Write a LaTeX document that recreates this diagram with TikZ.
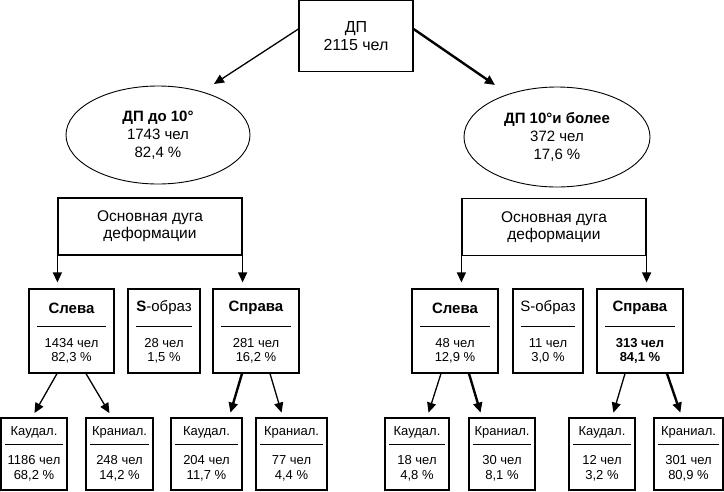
\documentclass[tikz,border=0pt]{standalone}
\usepackage{fontspec}
\setmainfont{Liberation Sans}
\usetikzlibrary{arrows.meta,shapes.geometric,calc}
\newcommand\fsz[2]{\fontsize{#1}{#2}\selectfont}
\tikzset{
  box/.style={draw,line width=1.2pt,inner sep=0pt},
  ell/.style={draw,ellipse,line width=0.9pt,inner sep=0pt,align=center,font=\fsz{15}{18}},
  txt/.style={inner sep=0pt,align=center},
  rule/.style={line width=1.2pt},
  arr/.style={-{Triangle[length=10pt,width=9pt]},line width=1.3pt},
  tarr/.style={arr,line width=2.4pt},
}
\newcommand\boxthree[5]{%
  \node[box,minimum width=#3,minimum height=84] (#1) at (#2,331) {};
  \node[txt,font=\fsz{15}{16}] (#1t) at (#2,308) {#4};
  \draw[rule] ($(#1.north west)+(9,38)$) -- ($(#1.north east)+(-9,38)$);
  \node[txt,font=\fsz{13}{14.5}] (#1n) at (#2,351) {#5};
}
\newcommand\boxfour[5]{%
  \node[box,minimum width=#3,minimum height=72] (#1) at (#2,454) {};
  \node[txt,font=\fsz{13}{15}] (#1t) at (#2,432) {#4};
  \draw[rule] ($(#1.north west)+(5,27)$) -- ($(#1.north east)+(-5,27)$);
  \node[txt,font=\fsz{13}{15}] (#1n) at (#2,468.5) {#5};
}
\begin{document}
\begin{tikzpicture}[x=1pt,y=-1pt]
\useasboundingbox (0,0) rectangle (724,491);

% top
\node[box,minimum width=114,minimum height=71,align=center,font=\fsz{16}{18}] (top) at (356,36) {ДП\\2115 чел};

% ellipses
\node[ell,minimum width=184,minimum height=98] (eL) at (158,135) {\textbf{ДП до 10°}\\1743 чел\\82,4 \%};
\node[ell,minimum width=186,minimum height=100] (eR) at (557,137) {\textbf{ДП 10°и более}\\372 чел\\17,6 \%};

\coordinate (tipL) at (214,84);
\coordinate (tipR) at (495,85);
\draw[arr] ([yshift=7pt]top.west) -- (tipL);
\draw[tarr] ([yshift=7pt]top.east) -- (tipR);

% main arc boxes
\node[box,minimum width=184,minimum height=57,align=center,font=\fsz{15.5}{17}] (oL) at (150,226.5) {Основная дуга\\деформации};
\node[box,minimum width=184,minimum height=57,align=center,font=\fsz{15.5}{17}] (oR) at (554,227) {Основная дуга\\деформации};

% level 3
\boxthree{sL}{71.5}{85}{\textbf{Слева}}{1434 чел\\82,3 \%}
\boxthree{sS}{164}{72}{\textbf{S}-образ}{28 чел\\1,5 \%}
\boxthree{sR}{256}{86}{\textbf{Справа}}{281 чел\\16,2 \%}
\boxthree{rL}{455}{86}{\textbf{Слева}}{48 чел\\12,9 \%}
\boxthree{rS}{548}{70}{S-образ}{11 чел\\3,0 \%}
\boxthree{rR}{640}{86}{\textbf{Справа}}{\textbf{313 чел}\\\textbf{84,1 \%}}

\draw[arr,shorten >=6pt] (oL.south west) -- (oL.south west |- sL.north);
\draw[arr,shorten >=6pt] (oL.south east) -- (oL.south east |- sR.north);
\draw[arr,shorten >=6pt] (oR.south west) -- (oR.south west |- rL.north);
\draw[arr,shorten >=6pt] (oR.south east) -- (oR.south east |- rR.north);

% level 4
\boxfour{a}{34}{66}{Каудал.}{1186 чел\\68,2 \%}
\boxfour{b}{119.5}{67}{Краниал.}{248 чел\\14,2 \%}
\boxfour{c}{206.5}{71}{Каудал.}{204 чел\\11,7 \%}
\boxfour{d}{291.5}{71}{Краниал.}{77 чел\\4,4 \%}
\boxfour{e}{417}{64}{Каудал.}{18 чел\\4,8 \%}
\boxfour{f}{502}{66}{Краниал.}{30 чел\\8,1 \%}
\boxfour{g}{602}{66}{Каудал.}{12 чел\\3,2 \%}
\boxfour{h}{688.5}{69}{Краниал.}{301 чел\\80,9 \%}

\draw[arr,shorten >=5pt] ([xshift=-14.5pt]sL.south) -- ([xshift=-2pt]a.north);
\draw[arr,shorten >=5pt] ([xshift=14.5pt]sL.south) -- ([xshift=-7.5pt]b.north);
\draw[tarr,shorten >=5pt] ([xshift=-14pt]sR.south) -- ([xshift=22.5pt]c.north);
\draw[arr,shorten >=5pt] ([xshift=14pt]sR.south) -- ([xshift=-8.5pt]d.north);
\draw[arr,shorten >=5pt] ([xshift=-14pt]rL.south) -- ([xshift=10pt]e.north);
\draw[tarr,shorten >=5pt] ([xshift=14pt]rL.south) -- ([xshift=-20pt]f.north);
\draw[arr,shorten >=5pt] ([xshift=-15pt]rR.south) -- ([xshift=10pt]g.north);
\draw[tarr,shorten >=5pt] ([xshift=27pt]rR.south) -- ([xshift=-6.5pt]h.north);
\end{tikzpicture}
\end{document}
